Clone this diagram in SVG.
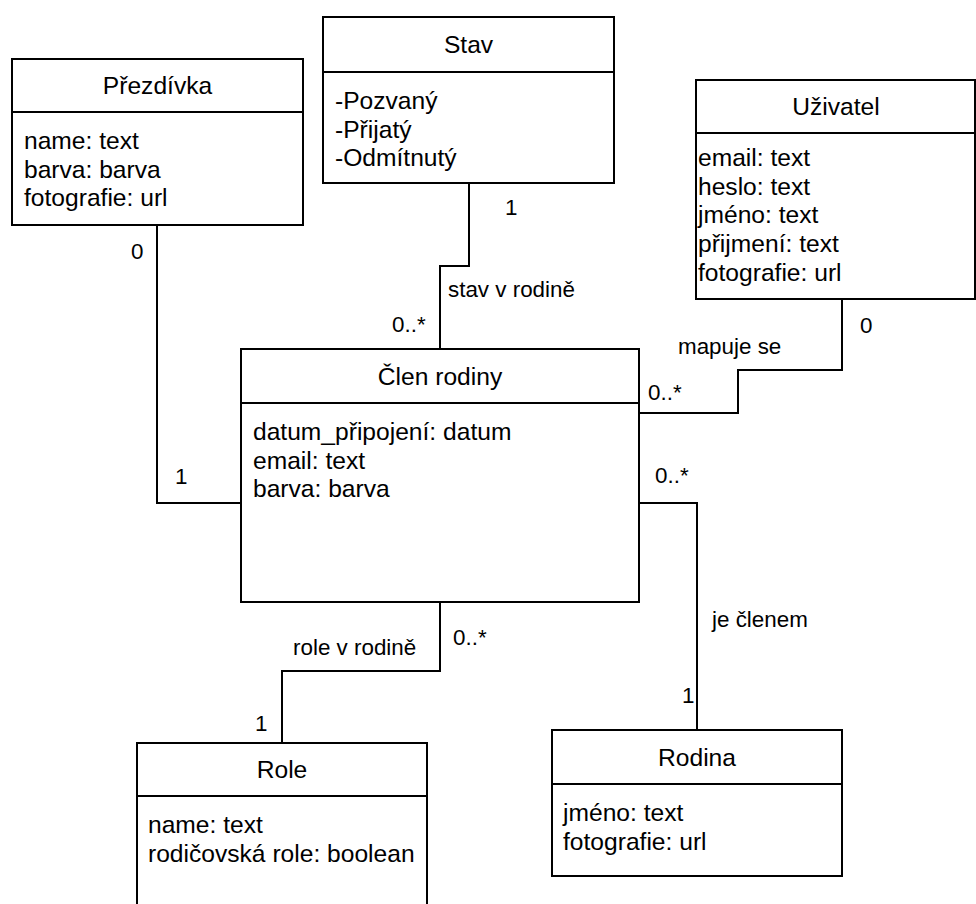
<svg xmlns="http://www.w3.org/2000/svg" width="976" height="904" viewBox="0 0 976 904">
  <style>
    .box { fill: #ffffff; stroke: #000000; stroke-width: 2; }
    .sep { stroke: #000000; stroke-width: 2; }
    .title { font-family: "Liberation Sans", Arial, sans-serif; font-size: 24.6px; fill: #000000; text-anchor: middle; }
    .attr { font-family: "Liberation Sans", Arial, sans-serif; font-size: 24.6px; fill: #000000; }
    .edge { fill: none; stroke: #000000; stroke-width: 2; }
    .lbl { font-family: "Liberation Sans", Arial, sans-serif; font-size: 22.4px; fill: #000000; }
  </style>
  <rect width="976" height="904" fill="#ffffff"/>

  <!-- associations -->
  <g id="connectors">
    <path class="edge" d="M157,225 V503 H241"/>
    <path class="edge" d="M469,183 V266 H440 V349"/>
    <path class="edge" d="M842,299 V370 H738 V413 H639"/>
    <path class="edge" d="M639,503 H697 V730"/>
    <path class="edge" d="M440,602 V671 H282 V743"/>

    <text class="lbl" x="131" y="259">0</text>
    <text class="lbl" x="175" y="484">1</text>

    <text class="lbl" x="505" y="215">1</text>
    <text class="lbl" x="448" y="297">stav v rodině</text>
    <text class="lbl" x="392" y="332">0..*</text>

    <text class="lbl" x="860" y="333">0</text>
    <text class="lbl" x="678" y="354">mapuje se</text>
    <text class="lbl" x="648" y="400">0..*</text>

    <text class="lbl" x="655" y="483">0..*</text>
    <text class="lbl" x="712" y="627">je členem</text>
    <text class="lbl" x="682" y="703">1</text>

    <text class="lbl" x="453" y="645">0..*</text>
    <text class="lbl" x="293" y="655">role v rodině</text>
    <text class="lbl" x="255" y="731">1</text>
  </g>

  <g id="prezdivka">
    <rect class="box" x="12" y="59" width="291" height="166"/>
    <line class="sep" x1="12" y1="112" x2="303" y2="112"/>
    <text class="title" x="157.5" y="94">Přezdívka</text>
    <text class="attr" x="24" y="149">name: text</text>
    <text class="attr" x="24" y="178">barva: barva</text>
    <text class="attr" x="24" y="206">fotografie: url</text>
  </g>

  <g id="stav">
    <rect class="box" x="323" y="17" width="291" height="166"/>
    <line class="sep" x1="323" y1="72" x2="614" y2="72"/>
    <text class="title" x="468.5" y="53">Stav</text>
    <text class="attr" x="335" y="109">-Pozvaný</text>
    <text class="attr" x="335" y="137.7">-Přijatý</text>
    <text class="attr" x="335" y="166.4">-Odmítnutý</text>
  </g>

  <g id="uzivatel">
    <rect class="box" x="696" y="80" width="279" height="219"/>
    <line class="sep" x1="696" y1="133" x2="975" y2="133"/>
    <text class="title" x="836" y="115">Uživatel</text>
    <text class="attr" x="698" y="166">email: text</text>
    <text class="attr" x="698" y="194.7">heslo: text</text>
    <text class="attr" x="698" y="223.4">jméno: text</text>
    <text class="attr" x="698" y="252">přijmení: text</text>
    <text class="attr" x="698" y="280.8">fotografie: url</text>
  </g>

  <g id="clen-rodiny">
    <rect class="box" x="241" y="349" width="398" height="253"/>
    <line class="sep" x1="241" y1="403" x2="639" y2="403"/>
    <text class="title" x="440" y="385">Člen rodiny</text>
    <text class="attr" x="253" y="440">datum_připojení: datum</text>
    <text class="attr" x="253" y="468.7">email: text</text>
    <text class="attr" x="253" y="497.4">barva: barva</text>
  </g>

  <g id="role">
    <rect class="box" x="137" y="743" width="290" height="172"/>
    <line class="sep" x1="137" y1="796" x2="427" y2="796"/>
    <text class="title" x="282" y="778">Role</text>
    <text class="attr" x="148" y="833">name: text</text>
    <text class="attr" x="148" y="861.7">rodičovská role: boolean</text>
  </g>

  <g id="rodina">
    <rect class="box" x="552" y="730" width="290" height="146"/>
    <line class="sep" x1="552" y1="784" x2="842" y2="784"/>
    <text class="title" x="697" y="766">Rodina</text>
    <text class="attr" x="563" y="821">jméno: text</text>
    <text class="attr" x="563" y="849.7">fotografie: url</text>
  </g>
</svg>
